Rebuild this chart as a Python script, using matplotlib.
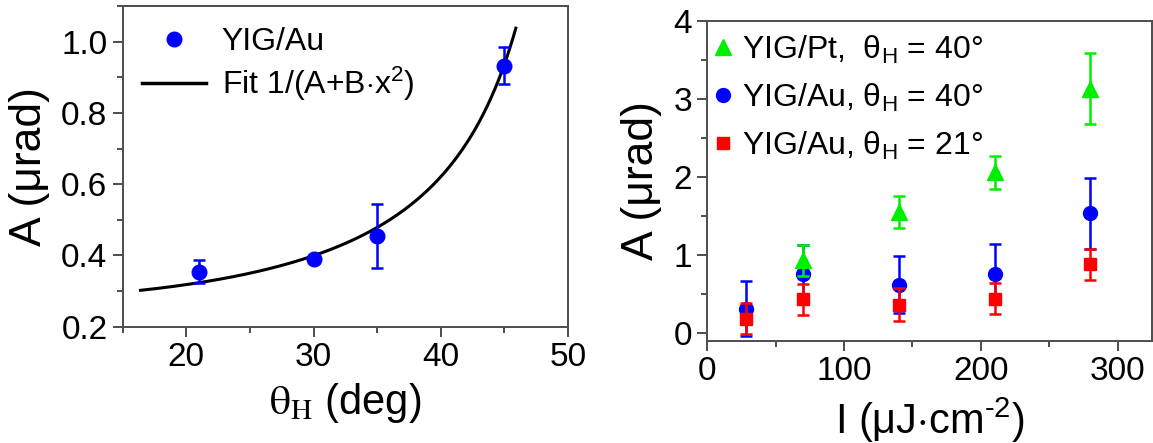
import numpy as np
import matplotlib
matplotlib.use("Agg")
import matplotlib.pyplot as plt
from matplotlib.ticker import MultipleLocator

plt.rcParams['font.family'] = ['Liberation Sans', 'DejaVu Sans']
plt.rcParams['mathtext.fontset'] = 'custom'
plt.rcParams['mathtext.rm'] = 'Liberation Sans'
plt.rcParams['mathtext.it'] = 'Liberation Sans:italic'
plt.rcParams['mathtext.bf'] = 'Liberation Sans:bold'

# ---- Left panel data ----
theta_deg = [21, 30, 35, 45]
A_theta = [0.354, 0.389, 0.454, 0.932]
A_theta_err = [0.032, 0.010, 0.089, 0.052]
fit_A = 3.654
fit_B = -0.001277
fit_range = (16.4, 45.9)

# ---- Right panel data ----
I_flu = [28, 70, 140, 210, 280]
pt40 = [0.93, 1.55, 2.06, 3.13]
pt40_err = [0.20, 0.20, 0.21, 0.45]
pt40_x = [70, 140, 210, 280]
au40 = [0.31, 0.76, 0.62, 0.76, 1.53]
au40_err = [0.35, 0.36, 0.37, 0.38, 0.46]
au21 = [0.18, 0.43, 0.36, 0.44, 0.88]
au21_err = [0.20, 0.20, 0.21, 0.20, 0.20]

BLUE = '#0000ff'
RED = '#ff0000'
GREEN = '#00ee00'

W, H = 1153, 443
fig = plt.figure(figsize=(W/100, H/100), dpi=100)

spine_col = '#4d4d4d'
tick_fs = 24

def style(ax):
    for s in ax.spines.values():
        s.set_color(spine_col)
        s.set_linewidth(1.4)
    ax.tick_params(which='both', direction='out', top=False, right=False,
                   color=spine_col, width=1.4)
    ax.tick_params(which='major', length=7, labelsize=tick_fs, pad=4)
    ax.tick_params(which='minor', length=4)

# Left axes
ax1 = fig.add_axes([122.7/W, 1-326.7/H, 445.3/W, 320.7/H])
style(ax1)
xx = np.linspace(fit_range[0], fit_range[1], 300)
ax1.plot(xx, 1.0/(fit_A + fit_B*xx**2), color='black', lw=2.2, zorder=2)
ax1.errorbar(theta_deg, A_theta, yerr=A_theta_err, fmt='o', color=BLUE, ms=10.5,
             elinewidth=1.8, capsize=4, capthick=1.8, zorder=3)
ax1.set_xlim(15, 50)
ax1.set_ylim(0.2, 1.1)
ax1.xaxis.set_major_locator(MultipleLocator(10))
ax1.xaxis.set_minor_locator(MultipleLocator(5))
ax1.yaxis.set_major_locator(MultipleLocator(0.2))
ax1.yaxis.set_minor_locator(MultipleLocator(0.1))
ax1.yaxis.set_major_formatter(matplotlib.ticker.FormatStrFormatter('%.1f'))
ax1.set_ylabel('A (μrad)', fontsize=32, labelpad=8)
ax1.set_xlabel(r'$\mathrm{\theta}_{\mathrm{H}}$ (deg)', fontsize=30, labelpad=6, math_fontfamily='stix')
h1 = [plt.Line2D([], [], ls='none', marker='o', color=BLUE, ms=10.5),
      plt.Line2D([], [], color='black', lw=2.5)]
l1 = ['YIG/Au', r'Fit 1/(A+B$\cdot$x$^2$)']
ax1.legend(h1, l1, loc='upper left', frameon=False, fontsize=23,
           bbox_to_anchor=(0.0, 0.995), handlelength=2.0, handletextpad=0.5,
           labelspacing=0.25, borderaxespad=0.2)

# Right axes
ax2 = fig.add_axes([707.3/W, 1-340.7/H, 444.5/W, 320/H])
style(ax2)
ax2.errorbar(I_flu, au40, yerr=au40_err, fmt='o', color=BLUE, ms=10,
             elinewidth=1.8, capsize=4, capthick=1.8, zorder=3)
ax2.errorbar(I_flu, au21, yerr=au21_err, fmt='s', color=RED, ms=9,
             elinewidth=1.8, capsize=4, capthick=1.8, zorder=4)
ax2.errorbar(pt40_x, pt40, yerr=pt40_err, fmt='^', color=GREEN, ms=11,
             elinewidth=1.8, capsize=4, capthick=1.8, zorder=5)
ax2.set_xlim(0, 325)
ax2.set_ylim(-0.1, 4)
ax2.xaxis.set_major_locator(MultipleLocator(100))
ax2.xaxis.set_minor_locator(MultipleLocator(50))
ax2.yaxis.set_major_locator(MultipleLocator(1))
ax2.yaxis.set_minor_locator(MultipleLocator(0.5))
ax2.set_ylabel('A (μrad)', fontsize=32, labelpad=8)
ax2.set_xlabel(r'I (μJ$\cdot$cm$^{\text{-}2}$)', fontsize=30, labelpad=6)
labels2 = ['YIG/Pt,  θ$_{\mathrm{H}}$ = 40°', 'YIG/Au, θ$_{\mathrm{H}}$ = 40°', 'YIG/Au, θ$_{\mathrm{H}}$ = 21°']
handles2 = [plt.Line2D([], [], ls='none', marker='^', color=GREEN, ms=11),
            plt.Line2D([], [], ls='none', marker='o', color=BLUE, ms=10),
            plt.Line2D([], [], ls='none', marker='s', color=RED, ms=9)]
ax2.legend(handles2, labels2, loc='upper left', frameon=False, fontsize=23,
           bbox_to_anchor=(-0.03, 1.02), handlelength=0.6, handletextpad=0.3,
           labelspacing=0.5, borderaxespad=0.2)

fig.savefig('out.png', dpi=100)
